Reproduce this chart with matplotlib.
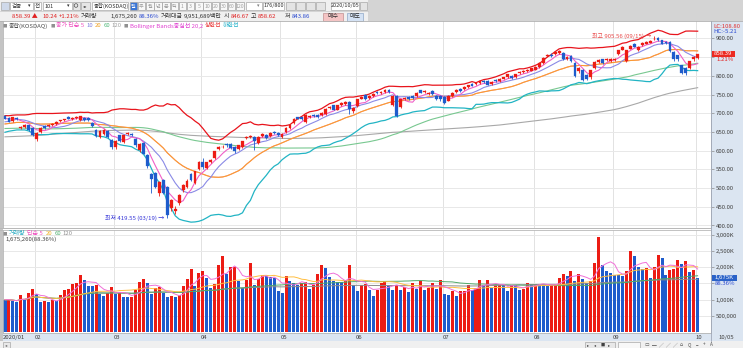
import numpy as np
import pandas as pd
import matplotlib
matplotlib.use("Agg")
import matplotlib.pyplot as plt
from matplotlib.patches import Rectangle, Circle

plt.rcParams['font.family'] = ['Noto Sans CJK KR', 'DejaVu Sans']
FAM = ['Noto Sans CJK KR', 'DejaVu Sans']

# ---------------------------------------------------------------- data
# KOSDAQ composite, daily, 2020-01-20 .. 2020-10-05 (176 sessions)
open_ = [693, 687, 679, 688, 661, 663, 668, 661,
         632, 650, 666, 666, 668, 672, 679, 681, 690, 684, 687, 682, 688, 688, 675, 656, 636, 645, 654, 629,
         611, 641, 623, 644, 645, 632, 602, 620, 589, 537, 540, 486, 522, 502, 446, 440, 460, 495, 504, 538, 513, 552,
         571, 555, 571, 580, 605, 609, 618, 618, 611, 605, 609, 633, 637, 636, 620, 639, 643, 639, 650, 647,
         637, 649, 661, 674, 689, 689, 678, 689, 696, 695, 695, 698, 714, 721, 710, 722, 725, 730, 705,
         719, 739, 750, 741, 746, 757, 754, 757, 763, 723, 746, 716, 737, 743, 746, 746, 761, 756, 752, 759, 746, 746,
         743, 734, 746, 756, 765, 765, 770, 779, 779, 780, 786, 786, 779, 790, 787, 793, 796, 801, 796, 807, 811, 813, 814,
         817, 824, 835, 853, 857, 859, 862, 862, 846, 853, 835, 812, 817, 802, 796, 821, 837, 844, 842, 840,
         842, 859, 870, 841, 873, 886, 868, 882, 886, 889, 898, 902, 895, 891, 891, 864, 855, 828, 821, 821, 844,
         846.67]
close = [686, 678, 689, 685, 664, 668, 655, 643,
         648, 661, 661, 670, 672, 677, 681, 684, 686, 688, 691, 693, 682, 682, 666, 639, 654, 656, 636, 611,
         627, 625, 641, 647, 643, 614, 618, 592, 560, 524, 504, 515, 487, 428.35, 467, 444, 482, 509, 520, 522, 545, 569,
         556, 569, 576, 598, 610, 611, 614, 607, 598, 614, 625, 637, 638, 627, 636, 645, 634, 647, 646, 643,
         645, 661, 670, 685, 686, 686, 696, 693, 692, 690, 701, 712, 717, 710, 721, 727, 730, 712, 714,
         737, 744, 737, 746, 752, 754, 757, 763, 757, 746, 693, 737, 741, 737, 741, 755, 755, 759, 755, 752, 737, 737,
         728, 746, 755, 763, 759, 770, 775, 774, 781, 786, 783, 777, 784, 786, 793, 796, 804, 795, 804, 811, 814, 817, 820,
         824, 835, 848, 857, 853, 864, 866, 844, 850, 840, 799, 820, 790, 792, 815, 837, 842, 835, 846, 844,
         846, 868, 877, 868, 880, 878, 877, 888, 891, 892, 899, 895, 886, 888, 866, 844, 844, 808, 808, 839, 850,
         858.39]
high = [695, 689, 690, 690, 667, 671, 670, 663,
        650, 663, 668, 672, 674, 679, 683, 686, 692, 690, 693, 694, 690, 689, 677, 658, 656, 658, 656, 631,
        629, 643, 643, 650, 648, 634, 620, 622, 591, 540, 543, 520, 525, 505, 470, 452, 484, 511, 523, 541, 547, 572,
        580, 571, 579, 600, 613, 614, 620, 620, 612, 616, 627, 639, 641, 638, 638, 647, 645, 649, 652, 649,
        647, 663, 672, 687, 691, 691, 698, 695, 698, 697, 703, 714, 719, 723, 723, 729, 732, 732, 716,
        739, 746, 752, 748, 754, 759, 759, 765, 765, 748, 748, 739, 743, 745, 748, 757, 763, 761, 757, 761, 748, 748,
        745, 748, 757, 765, 767, 772, 777, 781, 783, 788, 788, 788, 786, 792, 795, 798, 806, 803, 806, 813, 816, 819, 822,
        826, 837, 850, 859, 860, 866, 868, 864, 853, 855, 837, 823, 819, 804, 817, 839, 844, 846, 848, 847,
        848, 870, 879, 870, 882, 888, 879, 890, 893, 895, 905.56, 904, 897, 893, 893, 866, 857, 830, 823, 841, 852,
        858.62]
low = [684, 676, 677, 683, 657, 660, 653, 640,
       627, 648, 658, 663, 666, 670, 677, 679, 684, 682, 685, 680, 680, 680, 664, 636, 634, 643, 634, 605,
       605, 622, 620, 641, 640, 610, 597, 590, 555, 487, 500, 480, 483, 419.55, 440, 430, 455, 490, 500, 518, 510, 548,
       552, 550, 568, 578, 603, 606, 611, 604, 595, 602, 607, 630, 633, 602, 617, 637, 631, 637, 644, 640,
       633, 647, 659, 672, 684, 683, 675, 687, 690, 688, 693, 696, 712, 708, 708, 720, 723, 697, 702,
       717, 737, 735, 739, 744, 752, 752, 755, 755, 720, 690, 714, 735, 735, 739, 744, 753, 754, 750, 750, 735, 734,
       726, 732, 744, 754, 757, 763, 768, 772, 777, 778, 781, 775, 777, 784, 785, 791, 794, 793, 794, 805, 809, 811, 812,
       815, 822, 833, 850, 851, 857, 858, 842, 843, 838, 797, 808, 786, 788, 793, 819, 835, 833, 840, 837,
       839, 857, 868, 838, 871, 876, 866, 880, 884, 887, 895, 893, 884, 886, 864, 841, 841, 805, 803, 818, 841,
       843.86]
# traded volume, axis unit "K"
volume = [1000, 1005, 950, 930, 1150, 1030, 1200, 1330,
          1170, 930, 970, 930, 1000, 970, 1150, 1310, 1330, 1480, 1510, 1750, 1590, 1430, 1410, 1460, 1180, 1110, 1220, 1380,
          1170, 1240, 1080, 1070, 1090, 1310, 1540, 1640, 1510, 1180, 1360, 1380, 1210, 1070, 1120, 1070, 1150, 1430, 1640, 1950, 1410, 1820,
          1870, 1660, 1360, 1490, 2070, 2330, 1790, 1990, 2000, 1580, 1360, 1590, 2120, 1440, 1640, 1750, 1720, 1710, 1660, 1260,
          1200, 1720, 1560, 1510, 1460, 1510, 1540, 1340, 1460, 1790, 2050, 1970, 1690, 1580, 1540, 1530, 1560, 2070, 1460,
          1260, 1440, 1480, 1290, 1100, 1310, 1510, 1560, 1430, 1310, 1460, 1310, 1390, 1230, 1510, 1330, 1560, 1310, 1360, 1510, 1340, 1610,
          1170, 1150, 1260, 1120, 1260, 1270, 1440, 1310, 1360, 1610, 1460, 1590, 1360, 1460, 1480, 1460, 1280, 1460, 1440, 1300, 1330, 1510, 1490,
          1493, 1483, 1462, 1411, 1442, 1483, 1667, 1790, 1718, 1871, 1585, 1790, 1646, 1513, 1585, 2127, 2914, 2076, 1871, 1820,
          1769, 1749, 1718, 1871, 2485, 2331, 1990, 1950, 1973, 1667, 1994, 2382, 2280, 1749, 1900, 1953, 2229, 2100, 2178, 1850, 1896,
          1675.26]
# closes of the 119 sessions before the first candle (moving-average warm-up)
prior_close = [640, 630, 618, 630, 616,
               616, 585, 551, 569, 551, 575, 580, 580, 568, 582, 580, 590, 598, 600, 603, 595, 580, 583, 583, 587, 589,
               593, 600, 613, 620, 623, 627, 624, 630, 632, 634, 635, 639, 642, 640, 630, 628, 625, 625, 622,
               630, 623, 628, 623, 626, 628, 633, 640, 648, 653, 656, 658, 663, 664, 660, 660, 663, 668, 666, 668, 669,
               673, 675, 678, 676, 678, 672, 668, 664, 666, 668, 669, 670, 658, 648, 644, 646, 638, 648, 648, 646, 638,
               634, 628, 629, 626, 628, 630, 633, 636, 638, 640, 646, 648, 648, 653, 658, 660, 664, 668, 673, 678,
               675, 670, 660, 665, 655, 665, 674, 682, 685, 686, 688, 686]
month_start = [8, 28, 50, 70, 89, 111, 134, 154, 175]
month_label = ['02', '03', '04', '05', '06', '07', '08', '09', '10']
price_ticks = [400, 450, 500, 550, 600, 650, 700, 750, 800, 850, 900]
vol_ticks = [500, 1000, 1500, 2000, 2500, 3000]
vol_tick_labels = ['500,000', '1,000K', '', '2,000K', '2,500K', '3,000K']

n = len(close)
assert len(open_) == len(high) == len(low) == len(volume) == n
assert len(prior_close) == 119

o, c, h, l = map(np.array, (open_, close, high, low))
vol = np.array(volume, dtype=float)
xs = np.arange(n)

RED, BLUE = '#ec1c14', '#1e5ccc'
cand_col = np.where(c >= o, RED, BLUE)
vol_col = [BLUE] + [RED if vol[k] > vol[k - 1] else BLUE for k in range(1, n)]

full = pd.Series(prior_close + close, dtype=float)
ma = {w: full.rolling(w).mean().to_numpy()[-n:] for w in (5, 10, 20, 60, 120)}
sd20 = full.rolling(20).std(ddof=0).to_numpy()[-n:]
bb_up, bb_dn = ma[20] + 2 * sd20, ma[20] - 2 * sd20
vs = pd.Series(vol)
vma = {w: vs.rolling(w, min_periods=1).mean().to_numpy() for w in (5, 20, 60, 120)}

# ---------------------------------------------------------------- figure
W, H = 743, 348
fig = plt.figure(figsize=(W / 100, H / 100), dpi=100)
fig.patch.set_facecolor('white')
renderer = fig.canvas.get_renderer()


def pax(x0, y0, x1, y1):
    return fig.add_axes([x0 / W, 1 - y1 / H, (x1 - x0) / W, (y1 - y0) / H])


bg = pax(0, 0, W, H)
bg.set_xlim(0, W); bg.set_ylim(H, 0); bg.axis('off'); bg.set_zorder(0)
bg.add_patch(Rectangle((0, 0), 368, 21, fc='#f0f0f0', ec='none'))
bg.add_patch(Rectangle((368, 0), W - 368, 21, fc='#d4d4d4', ec='none'))
bg.add_patch(Rectangle((711, 21), 32, 320, fc='#dbe5f1', ec='none'))
bg.add_patch(Rectangle((0, 333), 711, 8, fc='#dbe5f1', ec='none'))
bg.add_patch(Rectangle((0, 341), W, 7, fc='#f0f0f0', ec='none'))
bg.add_patch(Rectangle((0, 21), 3, 320, fc='#c4c4c4', ec='none'))

XL = ((3 - 5) / 3.958, (711 - 5) / 3.958)
TFS = 4.3

# price pane
ax1 = pax(3, 21, 711, 228)
ax1.set_zorder(1)
ax1.set_xlim(*XL)
ax1.set_ylim(900 - (228 - 38.5) / 0.374, 900 + (38.5 - 21) / 0.374)
# volume pane
ax2 = pax(3, 230, 711, 333)
ax2.set_zorder(1)
ax2.set_xlim(*XL)
ax2.set_ylim(-21, (332.3 - 230) / 16.3 * 500)

for ax in (ax1, ax2):
    for s in ax.spines.values():
        s.set_color('#b4b4b4'); s.set_linewidth(0.6)
    ax.spines['top'].set_visible(False)
    ax.yaxis.tick_right()
    ax.tick_params(axis='y', length=2, width=0.5, color='#8c8c8c', labelsize=TFS,
                   labelcolor='#404040', pad=1.2, labelfontfamily=FAM)
    for m in month_start:
        ax.axvline(m - 0.4, color='#e2e2e2', lw=0.7, zorder=0.5)

ax1.set_yticks(price_ticks)
ax1.set_yticklabels(['' if v == 850 else f'{v:.2f}' for v in price_ticks])
for v in price_ticks:
    ax1.axhline(v, color='#e8e8e8', lw=0.7, zorder=0.5)
ax1.set_xticks([])

ax2.set_yticks(vol_ticks)
ax2.set_yticklabels(vol_tick_labels)
for v in vol_ticks:
    ax2.axhline(v, color='#e8e8e8', lw=0.7, zorder=0.5)
ax2.set_xticks([-0.45] + [m - 0.45 for m in month_start])
ax2.set_xticklabels(['2020/01'] + month_label, ha='left')
ax2.tick_params(axis='x', length=0, pad=1.5, labelsize=TFS, labelcolor='#404040', labelfontfamily=FAM)

# moving averages and Bollinger bands
ax1.plot(xs, ma[120], color='#a8a8a8', lw=0.8, zorder=2)
ax1.plot(xs, ma[60], color='#78c890', lw=0.8, zorder=2)
ax1.plot(xs, bb_up, color='#e8141c', lw=0.9, zorder=2)
ax1.plot(xs, bb_dn, color='#22b4c4', lw=0.9, zorder=2)
ax1.plot(xs, ma[20], color='#f08878', lw=0.8, zorder=2)
ax1.plot(xs, ma[20], color='#ffa020', lw=0.7, zorder=2.1, alpha=0.85)
ax1.plot(xs, ma[10], color='#8a8ae6', lw=0.8, zorder=2.2)
ax1.plot(xs, ma[5], color='#f060c8', lw=0.8, zorder=2.3)

# candles
ax1.vlines(xs, l, h, colors=cand_col, lw=0.6, zorder=3)
ax1.bar(xs, np.maximum(np.abs(c - o), 0.9), bottom=np.minimum(o, c), width=0.72,
        color=cand_col, edgecolor=cand_col, lw=0.2, zorder=4)

ax1.annotate('최고 905.56 (09/15) →', xy=(164 - 0.6, max(high)), ha='right', va='center',
             fontsize=TFS, color='#e84848', family=FAM, zorder=6)
ax1.annotate('최저 419.55 (03/19) →', xy=(41 - 0.8, min(low)), ha='right', va='center',
             fontsize=TFS, color='#3434d8', family=FAM, zorder=6)

# volume bars and averages
ax2.bar(xs, vol, width=0.76, color=vol_col, edgecolor='none', zorder=2)
ax2.plot(xs, vma[120], color='#8c8c8c', lw=0.7, zorder=3)
ax2.plot(xs, vma[60], color='#50a868', lw=0.7, zorder=3)
ax2.plot(xs, vma[20], color='#ffbe40', lw=0.7, zorder=3)
ax2.plot(xs, vma[5], color='#f070d8', lw=0.7, zorder=3)

# ---------------------------------------------------------------- overlay (toolbar, legends, markers)
ov = pax(0, 0, W, H)
ov.set_xlim(0, W); ov.set_ylim(H, 0); ov.axis('off'); ov.set_zorder(10)
ov.patch.set_alpha(0)


def T(x, y, s, color='#303030', ha='left', fs=TFS, **kw):
    t = ov.text(x, y, s, fontsize=fs, color=color, ha=ha, va='center', family=FAM, **kw)
    return t.get_window_extent(renderer).width


def row(y, items, gap=1.6):
    """Texts placed left to right at their x, pushed right if they would touch."""
    end = -1e9
    for x, s, col, fs in items:
        x = max(x, end + gap)
        end = x + T(x, y, s, color=col, fs=fs)


def B(x0, y0, x1, y1, fc='white', ec='#a8a8a8', lw=0.5):
    ov.add_patch(Rectangle((x0, y0), x1 - x0, y1 - y0, fc=fc, ec=ec, lw=lw))


# toolbar row 1
B(1, 1.5, 9, 10, fc='#cfd9ea')
B(10, 1.5, 33, 10); T(12, 6, '검증', fs=4.0); T(28, 6, '▾', fs=3.6)
B(34, 1.5, 41, 10); T(37.5, 6, '전', fs=4.0, ha='center')
B(43, 1.5, 72, 10); T(45, 6, '101', fs=4.0); T(66.5, 6, '▾', fs=3.6)
B(73, 1.5, 80, 10, fc='#e6e6e6'); ov.add_patch(Circle((76, 5.5), 1.8, fc='none', ec='#505050', lw=0.5))
B(81, 1.5, 90, 10, fc='#e6e6e6'); T(85.5, 6, '◂▸', fs=3.2, ha='center')
B(92, 1.5, 128, 10); T(93.5, 6, '종합(KOSDAQ)', fs=3.9)
btns = ['일', '주', '월', '년', '분', '틱', '1', '3', '5', '10', '20', '30', '60', '120']
for k, s in enumerate(btns):
    x0 = 129.5 + k * 8.2
    sel = (k == 0)
    B(x0, 1.5, x0 + 7.6, 10, fc='#3a76d6' if sel else '#f8f8f8', ec='#a0a0a0')
    T(x0 + 3.8, 6, s, ha='center', fs=3.7, color='white' if sel else '#a0a0a0')
B(246, 1.5, 262, 10); T(257, 6, '▾', fs=3.6, color='#808080')
B(263, 1.5, 284, 10); T(273.5, 6, '176/800', ha='center', fs=4.0)
for x0 in (286, 296, 306, 316):
    B(x0, 1.5, x0 + 8.5, 10, fc='#e4e4e4')
B(331, 1.5, 359, 10); T(345, 6, '2020/10/05', ha='center', fs=4.0)
B(360, 1.5, 367, 10, fc='#e4e4e4')

# toolbar row 2
ov.plot([0, 368], [11, 11], color='#c8c8c8', lw=0.5)
R2, B2, K2 = '#e02020', '#2848d0', '#303030'
row(16.3, [(12, '858.39 ▲', R2, TFS), (42, '10.24', R2, TFS), (55, '+1.21%', R2, TFS),
           (69, '거래량', K2, TFS), (110, '1,675,260', K2, TFS), (133, '88.36%', B2, TFS),
           (148, '거래대금', K2, TFS), (177, '9,951,689백만', K2, TFS), (211, '시', K2, TFS),
           (222, '846.67', R2, TFS), (247, '고', K2, TFS), (255, '858.62', R2, TFS),
           (285, '저', K2, TFS), (292, '843.86', B2, TFS)])
B(323, 12.5, 343, 20.5, fc='#f4c4c4', ec='#c09090'); T(333, 16.5, '매수', ha='center')
B(347, 12.5, 363, 20.5, fc='#d4e2f4', ec='#90a8c8'); T(355, 16.5, '매도', ha='center')
ov.plot([0, W], [21, 21], color='#b0b0b0', lw=0.6)

# price legend
G = '#909090'
row(25.5, [(3, '■', G, 3.2), (7, '종합(KOSDAQ)', '#505050', TFS), (44, '■', G, 3.2),
           (48, '종가 단순 5', '#f050c0', TFS), (72, '10', '#8080e0', TFS), (80, '20', '#f0a020', TFS),
           (88, '60', '#50b878', TFS), (96, '120', '#a0a0a0', TFS), (104, '■', G, 3.2),
           (108, 'Bollinger Bands중심선 20,2', '#e040d0', TFS), (188, '상한선', '#e83030', TFS),
           (207, '하한선', '#20b0c8', TFS)], gap=1.8)

# volume legend
row(233.5, [(3, '■', G, 3.2), (8, '거래량', '#20a8c0', TFS), (27, '단순 5', '#f050c0', TFS),
            (46, '20', '#f0b020', TFS), (54, '60', '#50b070', TFS), (62, '120', '#909090', TFS)], gap=1.8)
T(5, 238.8, '1,675,260(88.36%)', color='#404040')

# pane separator
ov.plot([0, 711], [228.3, 228.3], color='#b8b8b8', lw=0.6)
ov.plot([0, 711], [230, 230], color='#b8b8b8', lw=0.6)

# right scale extras
T(713, 26, 'LC:108.80', color='#e03030')
T(713, 31.5, 'HC:-5.21', color='#2848d0')
B(712, 50.8, 735, 57.0, fc='#ec2a22', ec='none'); T(714, 53.9, '858.39', color='white')
T(716, 59.8, '1.21%', color='#e02020')
B(712, 274.8, 737, 280.8, fc='#2a62c8', ec='none'); T(714, 277.8, '1,675K', color='white')
T(715, 283.6, '88.36%', color='#2848d0')
T(718, 337, '10/05', color='#404040')
ov.plot([711, 711], [21, 341], color='#a0a8b8', lw=0.6)

# bottom bar
B(3, 342, 10, 347.5, fc='#e8e8e8'); T(6.5, 344.8, '◂', fs=3.2, color='#606060', ha='center')
B(585, 342, 615, 347.5, fc='#e8e8e8')
for k, s in enumerate(['▸', '◂', '■', '▸']):
    T(588.5 + k * 7, 344.8, s, fs=3.0, color='#404040', ha='center')
B(618, 342, 640, 347.5, fc='#f8f8f8')
row(344.8, [(645, '▭', '#505050', 3.4), (652, '─', '#505050', 3.4), (659, '╱', '#505050', 3.4),
            (666, '╱', '#505050', 3.4), (673, '╱', '#505050', 3.4), (680, '⌂', '#505050', 3.4),
            (688, 'Q', '#505050', 3.4), (696, '−', '#505050', 3.4), (703, '+', '#505050', 3.4),
            (710, 'A', '#505050', 3.4)], gap=1.0)

fig.savefig('out.png', dpi=100, facecolor=fig.get_facecolor())
